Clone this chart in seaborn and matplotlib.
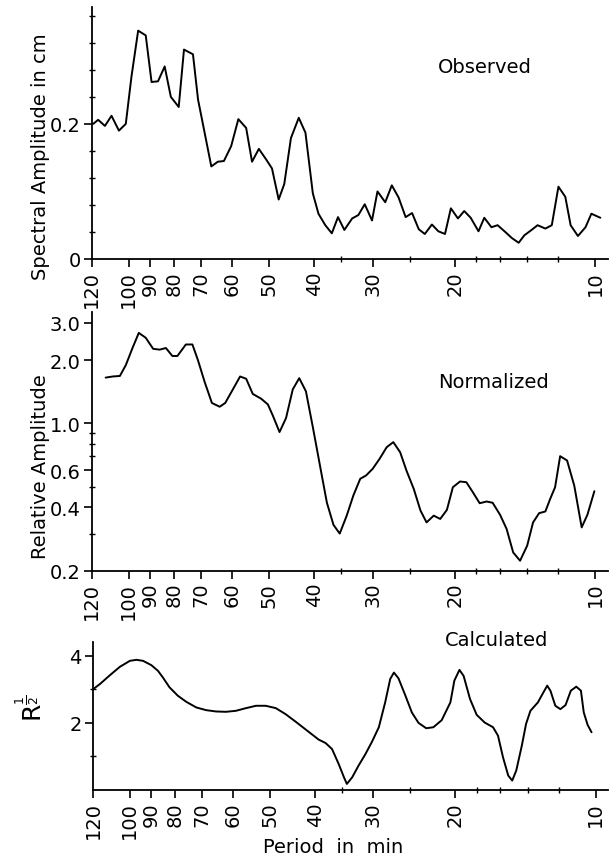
import matplotlib
matplotlib.use('Agg')
import matplotlib.pyplot as plt
from matplotlib.ticker import FixedLocator, NullFormatter
import seaborn as sns
import pandas as pd

# values (period in min, amplitude)
obs_period = [119.1, 116.2, 112.4, 108.8, 104.9, 101.4, 98.6, 95.4, 91.9, 89.3,
              86.5, 83.7, 81.2, 78.1, 76.1, 72.8, 71.0, 66.5, 64.4, 62.5,
              60.3, 58.2, 56.0, 54.4, 52.6, 50.7, 49.3, 47.7, 46.4, 44.9,
              43.2, 41.8, 40.3, 39.2, 37.9, 36.7, 35.6, 34.5, 33.2, 32.2,
              31.2, 30.1, 29.3, 28.2, 27.3, 26.4, 25.5, 24.7, 23.9, 23.2,
              22.4, 21.7, 21.0, 20.4, 19.7, 19.1, 18.5, 17.8, 17.3, 16.7,
              16.2, 15.6, 15.1, 14.6, 14.2, 13.7, 13.3, 12.8, 12.4, 12.0,
              11.6, 11.3, 10.9, 10.5, 10.2, 9.76]
obs_amp = [0.200, 0.206, 0.197, 0.212, 0.190, 0.200, 0.270, 0.338, 0.331, 0.262,
           0.263, 0.285, 0.240, 0.225, 0.310, 0.303, 0.236, 0.137, 0.144, 0.145,
           0.167, 0.207, 0.194, 0.144, 0.163, 0.147, 0.134, 0.088, 0.111, 0.179,
           0.209, 0.187, 0.097, 0.067, 0.050, 0.038, 0.062, 0.043, 0.060, 0.065,
           0.081, 0.057, 0.100, 0.084, 0.109, 0.091, 0.062, 0.068, 0.044, 0.037,
           0.051, 0.041, 0.037, 0.075, 0.060, 0.071, 0.061, 0.041, 0.061, 0.047,
           0.050, 0.040, 0.031, 0.024, 0.035, 0.043, 0.050, 0.045, 0.050, 0.107,
           0.092, 0.050, 0.034, 0.047, 0.067, 0.061]

norm_period = [112.0, 108.2, 104.4, 101.4, 98.1, 95.1, 91.9, 88.6, 85.8, 83.2,
               80.6, 78.6, 75.4, 73.0, 71.0, 68.7, 66.3, 63.8, 62.1, 59.8,
               57.7, 56.0, 54.2, 52.0, 50.3, 49.1, 47.5, 46.0, 44.5, 43.1,
               41.7, 40.3, 38.8, 37.6, 36.4, 35.3, 34.1, 33.0, 31.9, 31.0,
               30.0, 29.0, 28.0, 27.1, 26.2, 25.4, 24.5, 23.7, 23.0, 22.2,
               21.5, 20.8, 20.2, 19.5, 18.9, 18.3, 17.7, 17.1, 16.6, 16.0,
               15.5, 15.0, 14.5, 14.0, 13.6, 13.2, 12.8, 12.5, 12.2, 11.9,
               11.5, 11.1, 10.7, 10.4, 10.05]
norm_amp = [1.65, 1.67, 1.68, 1.89, 2.28, 2.69, 2.55, 2.26, 2.24, 2.28,
            2.09, 2.09, 2.37, 2.37, 1.99, 1.57, 1.25, 1.20, 1.25, 1.45,
            1.67, 1.63, 1.38, 1.31, 1.23, 1.09, 0.91, 1.06, 1.45, 1.64,
            1.42, 0.96, 0.61, 0.42, 0.33, 0.30, 0.365, 0.455, 0.546, 0.566,
            0.609, 0.679, 0.771, 0.815, 0.730, 0.598, 0.489, 0.386, 0.339, 0.365,
            0.352, 0.389, 0.498, 0.530, 0.526, 0.471, 0.418, 0.426, 0.420, 0.368,
            0.316, 0.244, 0.223, 0.263, 0.339, 0.375, 0.382, 0.438, 0.498, 0.699,
            0.667, 0.507, 0.321, 0.369, 0.477]

calc_period = [119.8, 115.9, 110.4, 105.1, 100.0, 96.8, 93.7, 89.9, 87.0, 84.9,
               82.2, 78.9, 75.7, 72.0, 68.6, 65.3, 62.2, 59.2, 56.3, 53.6,
               51.1, 48.6, 46.3, 44.0, 41.9, 39.3, 38.0, 36.8, 35.6, 34.7,
               34.2, 33.3, 32.3, 31.2, 30.2, 29.2, 28.3, 27.6, 27.1, 26.5,
               25.6, 24.8, 24.0, 23.1, 22.3, 21.4, 20.5, 20.1, 19.6, 19.2,
               18.6, 18.0, 17.3, 16.6, 16.2, 15.8, 15.4, 15.1, 14.8, 14.4,
               14.1, 13.8, 13.3, 13.0, 12.7, 12.5, 12.2, 11.9, 11.6, 11.3,
               11.0, 10.75, 10.6, 10.4, 10.2]
calc_val = [3.01, 3.16, 3.42, 3.67, 3.85, 3.88, 3.85, 3.72, 3.55, 3.35,
            3.06, 2.81, 2.63, 2.46, 2.38, 2.34, 2.33, 2.36, 2.44, 2.51,
            2.51, 2.44, 2.26, 2.03, 1.80, 1.50, 1.40, 1.22, 0.77, 0.38,
            0.18, 0.38, 0.72, 1.07, 1.44, 1.87, 2.61, 3.31, 3.50, 3.33,
            2.81, 2.31, 2.00, 1.84, 1.87, 2.08, 2.61, 3.26, 3.58, 3.40,
            2.71, 2.24, 2.01, 1.87, 1.62, 0.97, 0.43, 0.28, 0.58, 1.32,
            1.97, 2.36, 2.61, 2.86, 3.11, 2.96, 2.51, 2.41, 2.53, 2.96,
            3.08, 2.96, 2.31, 1.94, 1.72]

period_ticks = [120, 100, 90, 80, 70, 60, 50, 40, 30, 20, 10]
period_minor = [35, 25, 18, 16, 14, 12]
obs_ticks = [0, 0.2]
obs_minor = [0.04, 0.08, 0.12, 0.16, 0.24, 0.28, 0.32, 0.36]
norm_ticks = [0.2, 0.4, 0.6, 1.0, 2.0, 3.0]
norm_tick_labels = ['0.2', '0.4', '0.6', '1.0', '2.0', '3.0']
norm_minor = [0.3, 0.5, 0.7, 0.8, 0.9]
calc_ticks = [2, 4]
calc_minor = [1, 3]

sns.set_style('ticks')
plt.rcParams['font.family'] = ['DejaVu Sans']
plt.rcParams['text.color'] = 'black'
plt.rcParams['axes.labelcolor'] = 'black'
plt.rcParams['axes.edgecolor'] = 'black'

fig = plt.figure(figsize=(6.11, 8.62), dpi=100)
ax1 = fig.add_axes([0.150, 0.6984, 0.845, 0.2923])
ax2 = fig.add_axes([0.150, 0.3368, 0.845, 0.3001])
ax3 = fig.add_axes([0.1522, 0.0824, 0.843, 0.172])

df1 = pd.DataFrame({'period': obs_period, 'amp': obs_amp})
df2 = pd.DataFrame({'period': norm_period, 'amp': norm_amp})
df3 = pd.DataFrame({'period': calc_period, 'val': calc_val})

sns.lineplot(data=df1, x='period', y='amp', ax=ax1, color='black', lw=1.4, estimator=None)
sns.lineplot(data=df2, x='period', y='amp', ax=ax2, color='black', lw=1.4, estimator=None)
sns.lineplot(data=df3, x='period', y='val', ax=ax3, color='black', lw=1.4, estimator=None)

for ax in (ax1, ax2, ax3):
    ax.set_xscale('log')
    ax.set_xlim(120, 9.4)
    ax.xaxis.set_major_locator(FixedLocator(period_ticks))
    ax.set_xticklabels([str(p) for p in period_ticks], rotation=90)
    ax.xaxis.set_minor_locator(FixedLocator(period_minor))
    ax.xaxis.set_minor_formatter(NullFormatter())
    ax.spines['top'].set_visible(False)
    ax.spines['right'].set_visible(False)
    for s in ('left', 'bottom'):
        ax.spines[s].set_linewidth(1.3)
        ax.spines[s].set_color('black')
    ax.tick_params(which='major', direction='out', length=6, width=1.2,
                   labelsize=14, color='black', labelcolor='black', pad=2)
    ax.tick_params(which='minor', direction='inout', length=5, width=1.0, color='black')
    ax.set_xlabel('')
    ax.set_ylabel('')

# top: observed
ax1.set_ylim(0, 0.373)
ax1.yaxis.set_major_locator(FixedLocator(obs_ticks))
ax1.set_yticklabels(['0', '0.2'])
ax1.yaxis.set_minor_locator(FixedLocator(obs_minor))
ax1.set_ylabel('Spectral Amplitude in cm', fontsize=14, color='black')
ax1.yaxis.set_label_coords(-0.080, 0.41)

# middle: normalized
ax2.set_yscale('log')
ax2.set_ylim(0.2, 3.38)
ax2.yaxis.set_major_locator(FixedLocator(norm_ticks))
ax2.set_yticklabels(norm_tick_labels)
ax2.yaxis.set_minor_locator(FixedLocator(norm_minor))
ax2.yaxis.set_minor_formatter(NullFormatter())
ax2.set_ylabel('Relative Amplitude', fontsize=14, color='black')
ax2.yaxis.set_label_coords(-0.080, 0.407)

# bottom: calculated
ax3.set_ylim(0, 4.42)
ax3.yaxis.set_major_locator(FixedLocator(calc_ticks))
ax3.set_yticklabels(['2', '4'])
ax3.yaxis.set_minor_locator(FixedLocator(calc_minor))
ax3.set_ylabel(r'$\mathregular{R}^{\frac{1}{2}}$', fontsize=18, color='black')
ax3.yaxis.set_label_coords(-0.089, 0.56)
ax3.set_xlabel('Period  in  min', fontsize=14, color='black')
ax3.xaxis.set_label_coords(0.467, -0.318)

fig.text(0.794, 0.922, 'Observed', fontsize=14, ha='center', va='center', color='black')
fig.text(0.8085, 0.5557, 'Normalized', fontsize=14, ha='center', va='center', color='black')
fig.text(0.8134, 0.2575, 'Calculated', fontsize=14, ha='center', va='center', color='black')

fig.savefig('out.png', dpi=100)
